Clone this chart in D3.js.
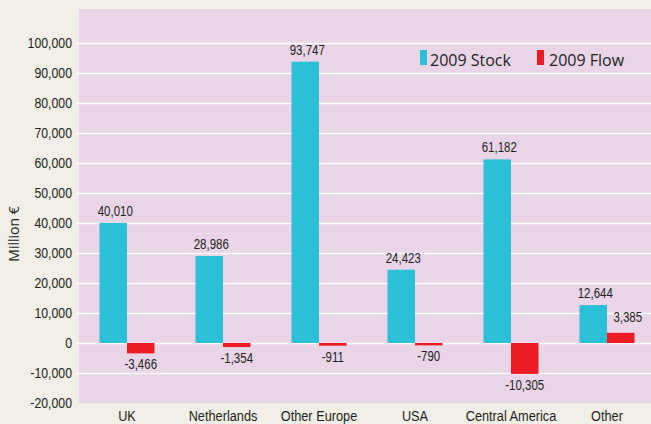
<!DOCTYPE html>
<html>
<head>
<meta charset="utf-8">
<script src="https://cdn.jsdelivr.net/npm/d3@7"></script>
<style>
  html, body { margin: 0; padding: 0; background: #f2efe8; overflow: hidden; }
  svg { display: block; }
</style>
</head>
<body>
<div id="chart"></div>
<script>
// Data
const categories = ["UK", "Netherlands", "Other Europe", "USA", "Central America", "Other"];
const stock = [40010, 28986, 93747, 24423, 61182, 12644];
const flow = [-3466, -1354, -911, -790, -10305, 3385];
const yTicks = [-20000, -10000, 0, 10000, 20000, 30000, 40000, 50000, 60000, 70000, 80000, 90000, 100000];
const seriesNames = ["2009 Stock", "2009 Flow"];

const width = 651;
const height = 424;
const plot = { left: 79, right: 651, top: 9, bottom: 403 };
const narrow = "'Liberation Sans', Arial, sans-serif";
const wide = "'Open Sans', 'Liberation Sans', sans-serif";
const colStock = "#2bc0d8";
const colFlow = "#ed1c24";
const fmt = d3.formatLocale({ decimal: ".", thousands: ",", grouping: [3], currency: ["", ""], minus: "-" }).format(",");

// texte condensé : on comprime horizontalement
function squeeze(sel, k = 0.82) {
    sel.each(function() {
        const t = d3.select(this);
        const tx = +t.attr("x") || 0;
        const ty = +t.attr("y") || 0;
        t.attr("x", 0).attr("y", 0)
         .attr("transform", `translate(${tx},${ty}) scale(${k},1)`);
    });
}

const x = d3.scaleBand()
    .domain(categories)
    .range([plot.left, 655])
    .padding(0);

const y = d3.scaleLinear()
    .domain([-20000, 111300])
    .range([plot.bottom, plot.top]);

const barW = 27.5;

const svg = d3.select("#chart").append("svg")
    .attr("width", width)
    .attr("height", height);

// fond
svg.append("rect")
    .attr("width", width).attr("height", height)
    .attr("fill", "#f2efe8");

svg.append("rect")
    .attr("x", plot.left).attr("y", plot.top)
    .attr("width", plot.right - plot.left)
    .attr("height", plot.bottom - plot.top)
    .attr("fill", "#e9d4e8");

// grille
svg.append("g")
    .selectAll("line")
    .data(yTicks.slice(1))
    .join("line")
    .attr("x1", plot.left - 3)
    .attr("x2", plot.right)
    .attr("y1", d => Math.round(y(d)) + 0.5)
    .attr("y2", d => Math.round(y(d)) + 0.5)
    .attr("stroke", "#ffffff")
    .attr("stroke-width", 1.3);

// axe Y
const yAxis = svg.append("g")
    .attr("transform", `translate(${plot.left},0)`)
    .call(d3.axisLeft(y).tickValues(yTicks).tickFormat(fmt).tickSize(0).tickPadding(7));
yAxis.select(".domain").remove();
yAxis.selectAll("text")
    .attr("font-family", narrow)
    .attr("font-size", "15px")
    .attr("fill", "#231f20")
    .call(squeeze);

// axe X
const xAxis = svg.append("g")
    .attr("transform", `translate(0,${plot.bottom})`)
    .call(d3.axisBottom(x).tickSize(0).tickPadding(0));
xAxis.select(".domain").remove();
xAxis.selectAll("text")
    .attr("dy", null)
    .attr("y", 18)
    .attr("font-family", narrow)
    .attr("font-size", "15px")
    .attr("fill", "#231f20")
    .call(squeeze, 0.85);

svg.append("text")
    .attr("transform", "translate(19,234) rotate(-90)")
    .attr("text-anchor", "middle")
    .attr("font-family", wide)
    .attr("font-size", "14px")
    .attr("fill", "#231f20")
    .text("Million €");

// barres
const rows = categories.map((c, i) => ({ c, s: stock[i], f: flow[i] }));
const cx = d => x(d.c) + x.bandwidth() / 2;

svg.append("g")
    .selectAll("rect")
    .data(rows)
    .join("rect")
    .attr("x", d => cx(d) - barW)
    .attr("width", barW)
    .attr("y", d => y(d.s))
    .attr("height", d => y(0) - y(d.s))
    .attr("fill", colStock);

svg.append("g")
    .selectAll("rect")
    .data(rows)
    .join("rect")
    .attr("x", d => cx(d))
    .attr("width", barW)
    .attr("y", d => y(Math.max(0, d.f)))
    .attr("height", d => Math.abs(y(d.f) - y(0)))
    .attr("fill", colFlow);

// étiquettes
const lab = svg.append("g")
    .attr("font-family", narrow)
    .attr("font-size", "14px")
    .attr("fill", "#231f20")
    .attr("text-anchor", "middle");

lab.selectAll("text.s")
    .data(rows)
    .join("text")
    .attr("class", "s")
    .attr("x", d => cx(d) - barW / 2 + 2)
    .attr("y", d => y(d.s) - 7)
    .text(d => fmt(d.s))
    .call(squeeze);

lab.selectAll("text.f")
    .data(rows)
    .join("text")
    .attr("class", "f")
    .attr("x", d => cx(d) + barW / 2 + (d.f > 0 ? 7 : 0))
    .attr("y", d => d.f > 0 ? y(d.f) - 11 : y(d.f) + 16)
    .text(d => fmt(d.f))
    .call(squeeze);

// légende
const legend = svg.append("g")
    .attr("font-family", wide)
    .attr("font-size", "16px")
    .attr("fill", "#231f20");

const legX = [420, 537];
const legTextX = [430, 549];
seriesNames.forEach((name, i) => {
    legend.append("rect")
        .attr("x", legX[i]).attr("y", 50)
        .attr("width", 7).attr("height", 15)
        .attr("fill", i === 0 ? colStock : colFlow);
    legend.append("text")
        .attr("x", legTextX[i]).attr("y", 66)
        .text(name);
});
</script>
</body>
</html>
